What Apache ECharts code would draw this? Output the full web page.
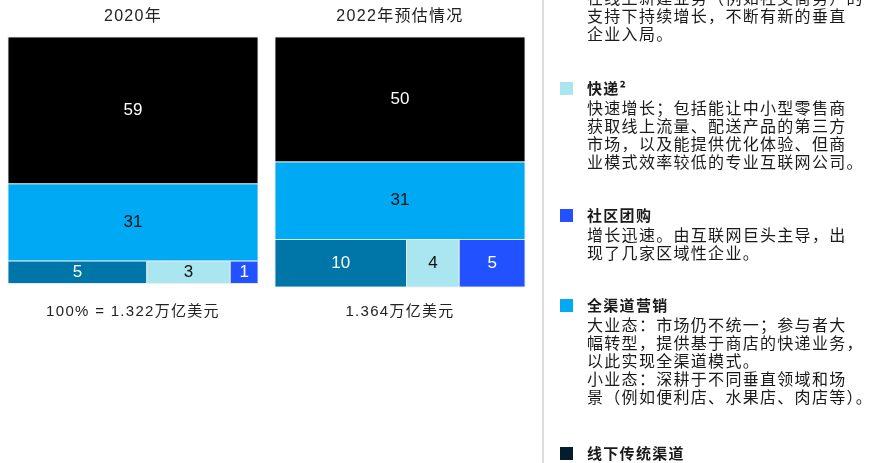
<!DOCTYPE html>
<html lang="zh">
<head>
<meta charset="UTF-8">
<title>渠道份额</title>
<script src="https://cdn.jsdelivr.net/npm/echarts@6/dist/echarts.min.js"></script>
<style>
  html, body { margin: 0; padding: 0; background: #fff; }
  #chart { width: 876px; height: 463px; }
</style>
</head>
<body>
<div id="chart"></div>
<script>
// 各渠道占比（%）：线下传统渠道、全渠道营销、垂直电商、快递、社区团购
var segments = ['线下传统渠道', '全渠道营销', '垂直电商', '快递', '社区团购'];
var values2020 = [59, 31, 5, 3, 1];
var values2022 = [50, 31, 10, 4, 5];
var panelTitles = ['2020年', '2022年预估情况'];
var panelTotals = ['100% = 1.322万亿美元', '1.364万亿美元'];
var segColors = ['#000000', '#00A9F4', '#0076A8', '#AAE6F0', '#2251FF'];
var labelColors = ['#ffffff', '#111111', '#ffffff', '#111111', '#ffffff'];

// 右侧说明
var legendTitles = ['', '快递²', '社区团购', '全渠道营销', '线下传统渠道'];
var legendColors = ['', '#AAE6F0', '#2251FF', '#00A9F4', '#051C2C'];
var legendDescs = [
  '在线上新建业务（例如社交商务）的\n支持下持续增长，不断有新的垂直\n企业入局。',
  '快速增长；包括能让中小型零售商\n获取线上流量、配送产品的第三方\n市场，以及能提供优化体验、但商\n业模式效率较低的专业互联网公司。',
  '增长迅速。由互联网巨头主导，出\n现了几家区域性企业。',
  '大业态：市场仍不统一；参与者大\n幅转型，提供基于商店的快递业务，\n以此实现全渠道模式。\n小业态：深耕于不同垂直领域和场\n景（例如便利店、水果店、肉店等）。',
  ''
];
var legendTop = [-11, 79, 206, 296, 444];

// 前两项各占一整行，其余项并排组成最后一行
function buildRects(vals) {
  var out = [];
  var y = 0;
  for (var i = 0; i < 2; i++) {
    out.push([0, 1, y, y + vals[i], vals[i], i]);
    y += vals[i];
  }
  var rest = 0;
  for (var j = 2; j < vals.length; j++) rest += vals[j];
  var x = 0;
  for (var k = 2; k < vals.length; k++) {
    out.push([x, x + vals[k] / rest, y, y + rest, vals[k], k]);
    x += vals[k] / rest;
  }
  return out;
}

function renderItem(params, api) {
  var p0 = api.coord([api.value(0), api.value(2)]);
  var p1 = api.coord([api.value(1), api.value(3)]);
  var idx = api.value(5);
  return {
    type: 'rect',
    shape: { x: p0[0], y: p0[1], width: p1[0] - p0[0], height: p1[1] - p0[1] },
    style: { fill: segColors[idx], stroke: 'rgba(235,240,245,0.9)', lineWidth: 1 },
    textContent: {
      style: {
        text: String(api.value(4)),
        fill: labelColors[idx],
        font: '17px "Liberation Sans", Arial, sans-serif'
      }
    },
    textConfig: { position: 'inside' }
  };
}

var chart = echarts.init(document.getElementById('chart'), null, { renderer: 'canvas' });

var grids = [
  { left: 8, top: 37, width: 250, height: 249 },
  { left: 275, top: 37, width: 250, height: 250 }
];
var xAxes = [], yAxes = [], series = [];
[values2020, values2022].forEach(function (vals, i) {
  xAxes.push({ gridIndex: i, type: 'value', min: 0, max: 1, show: false });
  yAxes.push({ gridIndex: i, type: 'value', min: 0, max: 100, inverse: true, show: false });
  series.push({
    type: 'custom',
    name: panelTitles[i],
    xAxisIndex: i,
    yAxisIndex: i,
    renderItem: renderItem,
    encode: { x: [0, 1], y: [2, 3] },
    data: buildRects(vals)
  });
});

var graphic = [];
var cjk = '"Noto Sans CJK SC", sans-serif';
var mixed = '"Liberation Sans", "Noto Sans CJK SC", sans-serif';
panelTitles.forEach(function (t, i) {
  var cx = grids[i].left + grids[i].width / 2;
  graphic.push({
    type: 'text', x: cx, y: 17, zlevel: 1,
    style: { text: t, font: '16px ' + mixed, fill: '#222', align: 'center', verticalAlign: 'middle' }
  });
  graphic.push({
    type: 'text', x: cx, y: 312, zlevel: 1,
    style: { text: panelTotals[i], font: '15px ' + mixed, fill: '#222', align: 'center', verticalAlign: 'middle' }
  });
});

graphic.push({
  type: 'line',
  shape: { x1: 543, y1: 0, x2: 543, y2: 463 },
  style: { stroke: '#dcdcdc', lineWidth: 2 }
});

legendTitles.forEach(function (t, i) {
  var top = legendTop[i];
  if (t) {
    graphic.push({
      type: 'rect',
      shape: { x: 560, y: top + 3, width: 13, height: 13 },
      style: { fill: legendColors[i] }
    });
    graphic.push({
      type: 'text', x: 587, y: top, zlevel: 1,
      style: { text: t, font: 'bold 15px ' + cjk, fill: '#1a1a1a', lineHeight: 18, verticalAlign: 'top' }
    });
  }
  if (legendDescs[i]) {
    graphic.push({
      type: 'text', x: 587, y: t ? top + 20 : top, zlevel: 1,
      style: { text: legendDescs[i], font: '16px ' + cjk, fill: '#1a1a1a', lineHeight: 18, verticalAlign: 'top' }
    });
  }
});

var option = {
  animation: false,
  grid: grids,
  xAxis: xAxes,
  yAxis: yAxes,
  series: series,
  graphic: graphic
};
chart.setOption(option);

// 原图文字有字间距：给文字层加上 letterSpacing 后重绘
var layer = document.querySelector('#chart canvas[data-zr-dom-id="zr_1"]');
if (layer) {
  layer.getContext('2d').letterSpacing = '1.3px';
  chart.setOption(option, true);
}
</script>
</body>
</html>
